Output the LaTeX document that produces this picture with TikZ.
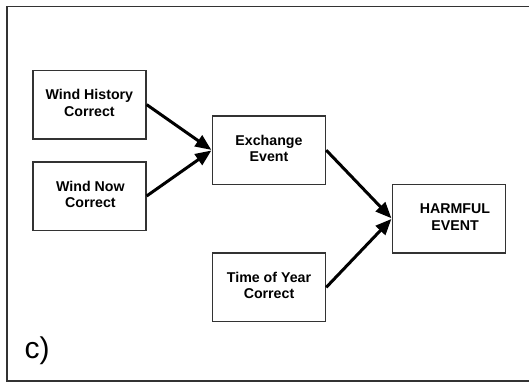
\documentclass[tikz,border=0pt]{standalone}
\usepackage{fontspec}
\setmainfont{Liberation Sans}
\usetikzlibrary{arrows.meta}
\newcommand{\boxtext}[2][0pt]{\raisebox{#1}{\setlength{\tabcolsep}{0pt}\begin{tabular}{c}#2\end{tabular}}}
\begin{document}
\begin{tikzpicture}[x=1pt,y=-1pt,
  box/.style={draw=black!80, line width=1.5pt, minimum width=113pt, minimum height=68.5pt,
    inner sep=0pt, align=center, font=\bfseries\fontsize{14.2}{16.3}\selectfont},
  conn/.style={line width=3pt, -{Triangle[length=16pt,width=13pt]}, shorten >=0.5pt}]
\useasboundingbox (0,0) rectangle (529,383);
\fill[white] (0,0) rectangle (529,383);
\draw[line width=1.6pt, black!80] (532,6.5) -- (6.7,6.5) -- (6.7,380.7) -- (532,380.7);
\node[box] (wh) at (89.4,104.6) {\boxtext[4pt]{Wind History\\Correct}};
\node[box] (wn) at (89.4,196) {\boxtext[2pt]{\hspace*{2pt}Wind Now\\\hspace*{2pt}Correct}};
\node[box] (ex) at (269,150.2) {\boxtext[4pt]{Exchange\\Event}};
\node[box] (ty) at (269,287.3) {\boxtext[1pt]{Time of Year\\Correct}};
\node[box] (hf) at (449,218.6) {\boxtext[-3pt]{\hspace*{12pt}HARMFUL\\\hspace*{12pt}EVENT}};
\node[font=\fontsize{30}{31}\selectfont, anchor=base west, inner sep=0pt] (lbl) at (24.5,358) {c)};
\draw[conn] (wh.east) -- (ex.west);
\draw[conn] (wn.east) -- (ex.west);
\draw[conn] (ex.east) -- (hf.west);
\draw[conn] (ty.east) -- (hf.west);
\end{tikzpicture}
\end{document}
